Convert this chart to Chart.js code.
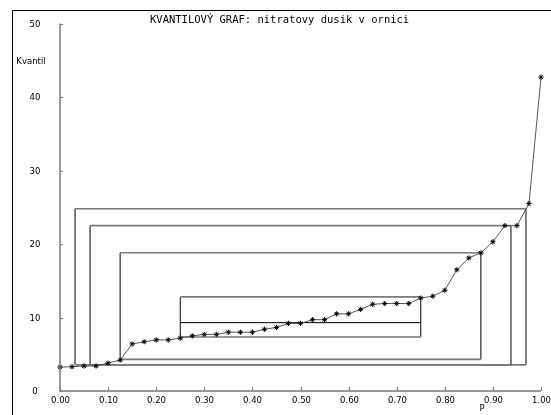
<!DOCTYPE html>
<html>
<head>
<meta charset="utf-8">
<script src="https://cdn.jsdelivr.net/npm/chart.js@4/dist/chart.umd.min.js"></script>
<style>
  html, body { margin: 0; padding: 0; background: #fff; }
  canvas { display: block; }
</style>
</head>
<body>
<canvas id="qplot" width="551" height="415"></canvas>
<script>
// probability levels and sample quantiles
const probs = [0, 0.025, 0.05, 0.075, 0.1, 0.125, 0.15, 0.175, 0.2, 0.225,
  0.25, 0.275, 0.3, 0.325, 0.35, 0.375, 0.4, 0.425, 0.45, 0.475,
  0.5, 0.525, 0.55, 0.575, 0.6, 0.625, 0.65, 0.675, 0.7, 0.725,
  0.75, 0.775, 0.8, 0.825, 0.85, 0.875, 0.9, 0.925, 0.95, 0.975, 1];
const quantiles = [3.25, 3.3, 3.4, 3.4, 3.8, 4.2, 6.4, 6.7, 6.95, 6.95,
  7.2, 7.5, 7.7, 7.7, 8.0, 8.0, 8.0, 8.4, 8.65, 9.2,
  9.2, 9.7, 9.7, 10.5, 10.5, 11.1, 11.8, 11.9, 11.9, 11.9,
  12.65, 12.9, 13.7, 16.5, 18.1, 18.8, 20.3, 22.5, 22.5, 25.5, 42.7];

// quantile boxes (quartiles, octiles, 16ths, 32nds)
const boxLowP = [0.25, 0.125, 0.0625, 0.03125];
const boxHighP = [0.75, 0.875, 0.9375, 0.96875];
const boxLowQ = [7.35, 4.3, 3.55, 3.55];
const boxHighQ = [12.8, 18.8, 22.5, 24.8];
const median = 9.3;

const xTicks = [0, 0.1, 0.2, 0.3, 0.4, 0.5, 0.6, 0.7, 0.8, 0.9, 1.0];
const yTicks = [0, 10, 20, 30, 40, 50];

const titleText = "KVANTILOVÝ GRAF: nitratovy dusik v ornici";

const curve = probs.map((p, i) => ({ x: p, y: quantiles[i] }));

// each box: horizontal edges (grey) and vertical edges (black) as separate lines
const boxSets = [];
boxLowP.forEach((pl, i) => {
  const ph = boxHighP[i], ql = boxLowQ[i], qh = boxHighQ[i];
  boxSets.push({
    type: 'line',
    data: [{ x: pl, y: ql }, { x: ph, y: ql }, { x: ph, y: null }, { x: pl, y: qh }, { x: ph, y: qh }],
    borderColor: '#7a7a7a',
    borderWidth: 1.6,
    pointRadius: 0,
    spanGaps: false,
    order: 2
  });
  boxSets.push({
    type: 'line',
    data: [{ x: pl, y: ql }, { x: pl, y: qh }, { x: pl, y: null }, { x: ph, y: ql }, { x: ph, y: qh }],
    borderColor: '#000',
    borderWidth: 1,
    pointRadius: 0,
    spanGaps: false,
    order: 2
  });
});

const medianSet = {
  type: 'line',
  data: [{ x: boxLowP[0], y: median }, { x: boxHighP[0], y: median }],
  borderColor: '#000',
  borderWidth: 1,
  pointRadius: 0,
  order: 2
};

// axes, ticks, labels and frame drawn from the chart scales
const decor = {
  id: 'decor',
  afterDraw(chart) {
    const c = chart.ctx;
    const xs = chart.scales.x, ys = chart.scales.y;
    const x0 = xs.getPixelForValue(0), x1 = xs.getPixelForValue(1);
    const y0 = ys.getPixelForValue(0), y1 = ys.getPixelForValue(50);
    c.save();
    // outer frame
    c.strokeStyle = '#000';
    c.lineWidth = 1;
    c.beginPath();
    c.moveTo(12.5, 415);
    c.lineTo(12.5, 10.5);
    c.lineTo(551, 10.5);
    c.stroke();

    // axes
    c.strokeStyle = '#7a7a7a';
    c.lineWidth = 1.5;
    c.beginPath();
    c.moveTo(x0, y1);
    c.lineTo(x0, y0);
    c.lineTo(x1, y0);
    c.stroke();

    c.lineWidth = 1;
    c.fillStyle = '#000';
    c.font = '8.5px "DejaVu Sans"';
    c.textAlign = 'center';
    c.textBaseline = 'middle';
    yTicks.forEach(v => {
      const y = Math.round(ys.getPixelForValue(v)) + 0.5;
      c.beginPath();
      c.moveTo(x0, y);
      c.lineTo(x0 + 3, y);
      c.stroke();
      c.fillText(String(v), 35, y);
    });
    xTicks.forEach(v => {
      const x = Math.round(xs.getPixelForValue(v)) + 0.5;
      c.beginPath();
      c.moveTo(x, y0);
      c.lineTo(x, y0 - 4);
      c.stroke();
      c.fillText(v.toFixed(2), x, 401);
    });
    c.fillText('Kvantil', 31, 62);
    c.fillText('P', 482, 409);

    c.textAlign = 'left';
    c.font = '10.5px "DejaVu Sans Mono"';
    c.fillText(titleText, 150, 20);
    c.restore();
  }
};

new Chart(document.getElementById('qplot'), {
  type: 'line',
  data: {
    datasets: [
      {
        data: curve,
        borderColor: '#555',
        borderWidth: 1,
        pointStyle: 'star',
        pointRadius: 2.6,
        pointBorderColor: '#000',
        pointBorderWidth: 1,
        tension: 0,
        order: 0
      },
      medianSet,
      ...boxSets
    ]
  },
  options: {
    responsive: false,
    animation: false,
    clip: false,
    layout: { padding: { left: 60, right: 10, top: 23.5, bottom: 24 } },
    plugins: { legend: { display: false }, tooltip: { enabled: false } },
    scales: {
      x: { type: 'linear', min: 0, max: 1, display: false },
      y: { type: 'linear', min: 0, max: 50, display: false }
    }
  },
  plugins: [decor]
});
</script>
</body>
</html>
